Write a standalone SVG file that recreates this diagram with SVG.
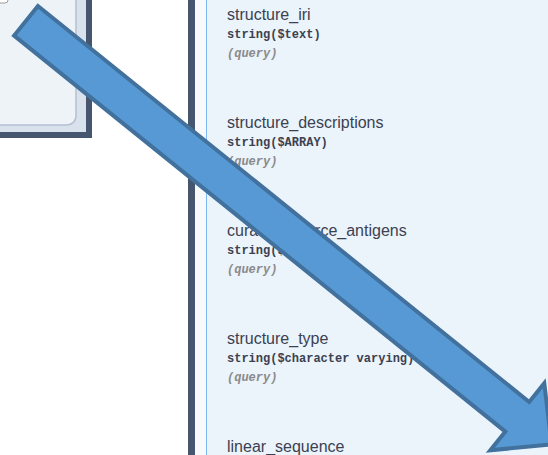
<svg xmlns="http://www.w3.org/2000/svg" width="548" height="455" viewBox="0 0 548 455">
  <style>
    .name { font-family: "Liberation Sans", Arial, sans-serif; font-size: 16px; fill: #3b4151; }
    .type { font-family: "Liberation Mono", "Courier New", monospace; font-size: 12px; font-weight: bold; fill: #3b4151; }
    .loc { font-family: "Liberation Mono", "Courier New", monospace; font-size: 12px; font-weight: bold; font-style: italic; fill: #8a8a8a; }
  </style>
  <rect x="0" y="0" width="548" height="455" fill="#ffffff"/>

  <g id="left-panel">
    <rect x="-10" y="-10" width="99" height="145" fill="#d9e2ec" stroke="#46566e" stroke-width="6"/>
    <rect x="-20" y="-20" width="96" height="145" rx="9" fill="#eef3f7" stroke="#b4c0d2" stroke-width="1.5"/>
    <rect x="-10" y="-10" width="18" height="13" rx="3" fill="#ffffff" stroke="#9a9a9a" stroke-width="1"/>
  </g>

  <g id="right-panel">
    <rect x="188" y="-5" width="7" height="465" fill="#46566e"/>
    <rect x="195" y="-5" width="11" height="465" fill="#f8f9fa"/>
    <rect x="206" y="-5" width="350" height="465" fill="#ebf3fb"/>
    <line x1="206.5" y1="-5" x2="206.5" y2="460" stroke="#7db9f6" stroke-width="1"/>
  </g>

  <g id="param-structure_iri">
    <text class="name" x="227" y="20">structure_iri</text>
    <text class="type" x="227" y="38">string($text)</text>
    <text class="loc" x="227" y="57">(query)</text>
  </g>
  <g id="param-structure_descriptions">
    <text class="name" x="227" y="128">structure_descriptions</text>
    <text class="type" x="227" y="146">string($ARRAY)</text>
    <text class="loc" x="227" y="165">(query)</text>
  </g>
  <g id="param-curated_source_antigens">
    <text class="name" x="227" y="236">curated_source_antigens</text>
    <text class="type" x="227" y="254">string($ARRAY)</text>
    <text class="loc" x="227" y="273">(query)</text>
  </g>
  <g id="param-structure_type">
    <text class="name" x="227" y="344">structure_type</text>
    <text class="type" x="227" y="362">string($character varying)</text>
    <text class="loc" x="227" y="381">(query)</text>
  </g>
  <g id="param-linear_sequence">
    <text class="name" x="227" y="452">linear_sequence</text>
  </g>

  <g id="connectors">
    <path d="M0,-19 L631,-19 L631,-43 L675,0 L631,43 L631,19 L0,19 Z" transform="translate(26,20.8) rotate(38.87)" fill="#5799d4" stroke="#41719c" stroke-width="4" stroke-linejoin="miter"/>
  </g>
</svg>
